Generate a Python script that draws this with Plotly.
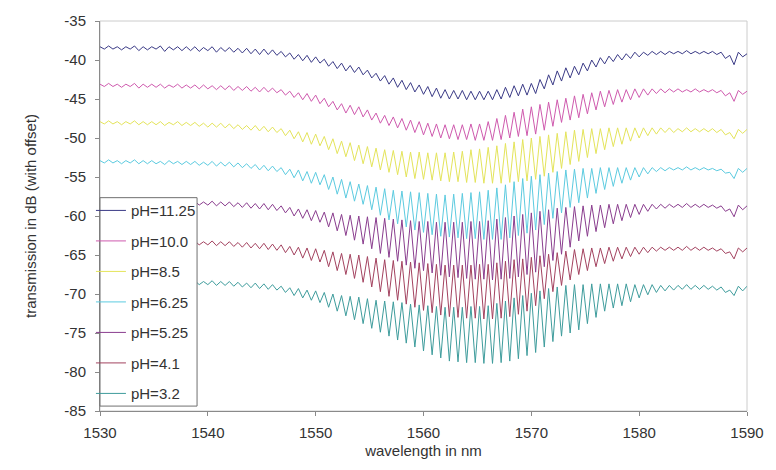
import numpy as np
import plotly.graph_objects as go

# ---------------- data ----------------
ph_labels = ["pH=11.25", "pH=10.0", "pH=8.5", "pH=6.25", "pH=5.25", "pH=4.1", "pH=3.2"]
line_colors = ["#3a3a86", "#cf5aae", "#e4e45a", "#5ccbe0", "#8a3d8e", "#a3425f", "#3e9c9c"]

# fringe sampling grid (nm): peaks at start + step*k, troughs half a step later
fringe_start = 1530.0
fringe_step = 0.8

# fringe maxima (76 values, 1530 ... 1590 nm) and minima (75 values) in dB
peaks_ph11_25 = [
    -38.3, -38.2, -38.3, -38.3, -38.2, -38.3, -38.3, -38.2, -38.3, -38.3,
    -38.3, -38.3, -38.4, -38.3, -38.4, -38.4, -38.5, -38.5, -38.6, -38.6,
    -38.7, -38.9, -39.1, -39.3, -39.4, -39.6, -39.9, -40.2, -40.4, -40.7,
    -40.9, -41.3, -41.7, -42.0, -42.3, -42.6, -42.9, -43.2, -43.4, -43.6,
    -43.8, -43.9, -43.9, -44.0, -44.0, -44.0, -43.8, -43.5, -43.3, -43.1,
    -43.0, -42.5, -41.9, -41.4, -41.0, -40.8, -40.4, -40.0, -39.7, -39.5,
    -39.3, -39.2, -39.0, -39.0, -38.9, -38.9, -38.9, -38.9, -38.8, -38.9,
    -38.9, -38.9, -39.0, -39.4, -39.0, -39.2]
troughs_ph11_25 = [
    -38.6, -38.6, -38.7, -38.6, -38.8, -38.7, -38.6, -38.9, -38.7, -38.8,
    -38.8, -38.9, -38.8, -39.0, -38.9, -39.0, -39.1, -39.2, -39.3, -39.3,
    -39.4, -39.6, -39.9, -40.1, -40.3, -40.4, -40.8, -41.1, -41.4, -41.6,
    -41.9, -42.3, -42.7, -43.1, -43.5, -43.8, -44.1, -44.4, -44.7, -44.9,
    -45.0, -45.0, -45.1, -45.1, -45.1, -45.1, -45.0, -44.8, -44.6, -44.5,
    -44.3, -43.7, -43.2, -42.7, -42.3, -41.9, -41.4, -40.9, -40.5, -40.2,
    -40.0, -39.8, -39.6, -39.4, -39.3, -39.3, -39.2, -39.2, -39.2, -39.2,
    -39.2, -39.3, -39.8, -40.6, -39.6]

peaks_ph10_0 = [
    -43.1, -43.0, -43.1, -43.1, -43.0, -43.1, -43.1, -43.1, -43.2, -43.1,
    -43.2, -43.2, -43.2, -43.3, -43.3, -43.3, -43.4, -43.4, -43.5, -43.5,
    -43.6, -43.8, -44.0, -44.2, -44.3, -44.5, -44.9, -45.3, -45.6, -45.8,
    -46.0, -46.4, -46.8, -47.1, -47.3, -47.5, -47.7, -47.9, -48.1, -48.2,
    -48.3, -48.3, -48.3, -48.2, -48.2, -47.9, -47.5, -47.1, -46.7, -46.3,
    -46.0, -45.7, -45.4, -45.1, -44.9, -44.6, -44.4, -44.2, -44.0, -43.9,
    -43.8, -43.8, -43.7, -43.7, -43.7, -43.7, -43.7, -43.7, -43.8, -43.7,
    -43.8, -43.8, -43.9, -44.2, -43.9, -44.0]
troughs_ph10_0 = [
    -43.4, -43.4, -43.5, -43.4, -43.6, -43.5, -43.5, -43.6, -43.5, -43.6,
    -43.6, -43.7, -43.7, -43.8, -43.8, -43.9, -43.9, -44.0, -44.1, -44.1,
    -44.2, -44.5, -44.8, -45.1, -45.3, -45.6, -46.0, -46.4, -46.8, -47.0,
    -47.3, -47.7, -48.1, -48.4, -48.7, -49.0, -49.3, -49.6, -49.8, -50.0,
    -50.1, -50.2, -50.2, -50.3, -50.3, -50.3, -50.2, -50.0, -49.8, -49.7,
    -49.5, -49.0, -48.5, -48.0, -47.7, -47.4, -46.9, -46.4, -46.0, -45.7,
    -45.4, -45.1, -44.8, -44.5, -44.3, -44.2, -44.1, -44.1, -44.1, -44.1,
    -44.1, -44.2, -44.6, -45.3, -44.4]

peaks_ph8_5 = [
    -47.9, -47.8, -47.9, -47.9, -47.8, -47.9, -47.9, -47.9, -48.0, -47.9,
    -48.0, -48.0, -48.1, -48.1, -48.1, -48.2, -48.3, -48.4, -48.4, -48.5,
    -48.6, -48.8, -49.0, -49.2, -49.3, -49.5, -49.8, -50.1, -50.4, -50.6,
    -50.9, -51.1, -51.3, -51.5, -51.6, -51.7, -51.8, -51.8, -51.9, -51.9,
    -51.9, -51.8, -51.7, -51.5, -51.4, -51.2, -51.0, -50.7, -50.5, -50.2,
    -50.0, -49.8, -49.6, -49.4, -49.2, -49.0, -48.9, -48.8, -48.8, -48.7,
    -48.7, -48.7, -48.7, -48.7, -48.7, -48.7, -48.7, -48.8, -48.7, -48.8,
    -48.8, -48.8, -48.9, -49.3, -48.9, -48.9]
troughs_ph8_5 = [
    -48.2, -48.2, -48.3, -48.2, -48.3, -48.3, -48.3, -48.4, -48.3, -48.4,
    -48.4, -48.5, -48.6, -48.6, -48.7, -48.8, -48.9, -49.0, -49.1, -49.2,
    -49.3, -49.7, -50.1, -50.5, -50.8, -51.0, -51.5, -52.0, -52.4, -52.9,
    -53.3, -53.7, -54.1, -54.4, -54.7, -55.0, -55.2, -55.3, -55.4, -55.5,
    -55.6, -55.6, -55.7, -55.7, -55.8, -55.8, -55.8, -55.7, -55.6, -55.5,
    -55.3, -54.9, -54.4, -53.9, -53.4, -53.0, -52.5, -52.0, -51.5, -51.1,
    -50.8, -50.4, -50.0, -49.7, -49.5, -49.3, -49.3, -49.2, -49.2, -49.2,
    -49.2, -49.3, -49.6, -50.1, -49.4]

peaks_ph6_25 = [
    -52.9, -52.8, -52.9, -52.9, -52.8, -52.9, -52.9, -53.0, -52.9, -53.0,
    -53.0, -53.0, -53.1, -53.0, -53.1, -53.1, -53.2, -53.3, -53.4, -53.5,
    -53.6, -53.8, -54.0, -54.1, -54.3, -54.4, -54.7, -55.0, -55.3, -55.6,
    -55.9, -56.1, -56.3, -56.5, -56.7, -56.8, -56.9, -57.0, -57.1, -57.2,
    -57.3, -57.2, -57.1, -57.0, -56.9, -56.7, -56.4, -56.0, -55.6, -55.2,
    -54.9, -54.7, -54.5, -54.3, -54.1, -54.0, -53.9, -53.9, -53.8, -53.8,
    -53.8, -53.8, -53.8, -53.8, -53.8, -53.8, -53.8, -53.8, -53.7, -53.8,
    -53.8, -53.9, -54.0, -54.4, -53.9, -53.9]
troughs_ph6_25 = [
    -53.2, -53.2, -53.3, -53.2, -53.3, -53.3, -53.3, -53.4, -53.3, -53.4,
    -53.4, -53.5, -53.5, -53.6, -53.6, -53.7, -53.8, -53.9, -54.1, -54.2,
    -54.3, -54.7, -55.1, -55.5, -55.8, -56.0, -56.6, -57.2, -57.7, -58.1,
    -58.5, -59.2, -59.9, -60.5, -61.0, -61.4, -61.8, -62.1, -62.4, -62.6,
    -62.7, -62.8, -62.9, -62.9, -63.0, -63.0, -63.0, -62.8, -62.5, -62.2,
    -61.8, -61.1, -60.3, -59.6, -58.9, -58.3, -57.7, -57.1, -56.6, -56.2,
    -55.8, -55.4, -55.0, -54.6, -54.3, -54.2, -54.1, -54.1, -54.1, -54.1,
    -54.1, -54.2, -54.5, -55.2, -54.4]

peaks_ph5_25 = [
    -58.0, -57.9, -58.0, -58.0, -57.9, -58.0, -58.0, -58.1, -58.0, -58.1,
    -58.1, -58.1, -58.2, -58.1, -58.2, -58.2, -58.3, -58.3, -58.4, -58.4,
    -58.5, -58.7, -58.9, -59.1, -59.2, -59.3, -59.5, -59.6, -59.8, -59.9,
    -60.0, -60.1, -60.2, -60.3, -60.4, -60.5, -60.6, -60.7, -60.7, -60.8,
    -60.8, -60.8, -60.8, -60.7, -60.7, -60.6, -60.4, -60.2, -60.0, -59.8,
    -59.6, -59.4, -59.2, -59.0, -58.9, -58.8, -58.7, -58.6, -58.6, -58.5,
    -58.5, -58.5, -58.5, -58.5, -58.5, -58.5, -58.5, -58.5, -58.4, -58.5,
    -58.5, -58.6, -58.7, -59.1, -58.6, -58.7]
troughs_ph5_25 = [
    -58.3, -58.3, -58.4, -58.3, -58.4, -58.4, -58.4, -58.5, -58.4, -58.5,
    -58.5, -58.6, -58.6, -58.7, -58.7, -58.8, -58.9, -59.0, -59.1, -59.2,
    -59.3, -59.6, -60.0, -60.3, -60.6, -60.8, -61.4, -61.9, -62.5, -63.1,
    -63.6, -64.2, -64.8, -65.3, -65.8, -66.3, -66.7, -67.0, -67.3, -67.6,
    -67.8, -67.9, -68.0, -68.1, -68.1, -68.2, -68.1, -68.0, -67.8, -67.5,
    -67.2, -66.5, -65.7, -64.9, -64.0, -63.2, -62.6, -62.0, -61.5, -61.0,
    -60.6, -60.2, -59.8, -59.4, -59.1, -59.0, -58.9, -58.9, -58.9, -58.9,
    -58.9, -59.0, -59.4, -60.1, -59.2]

peaks_ph4_1 = [
    -63.1, -63.0, -63.1, -63.1, -63.0, -63.1, -63.1, -63.2, -63.1, -63.2,
    -63.2, -63.2, -63.3, -63.2, -63.3, -63.3, -63.4, -63.4, -63.5, -63.5,
    -63.6, -63.7, -63.9, -64.0, -64.1, -64.2, -64.4, -64.6, -64.8, -64.9,
    -65.0, -65.2, -65.4, -65.6, -65.7, -65.8, -65.9, -66.0, -66.1, -66.2,
    -66.3, -66.3, -66.3, -66.3, -66.2, -66.2, -66.0, -65.8, -65.6, -65.5,
    -65.3, -65.1, -64.9, -64.7, -64.5, -64.3, -64.2, -64.1, -64.1, -64.0,
    -64.0, -64.0, -64.0, -64.0, -64.0, -64.0, -64.0, -64.0, -63.9, -64.0,
    -64.0, -64.1, -64.2, -64.6, -64.1, -64.1]
troughs_ph4_1 = [
    -63.4, -63.4, -63.5, -63.4, -63.5, -63.5, -63.5, -63.6, -63.5, -63.6,
    -63.6, -63.7, -63.7, -63.8, -63.8, -63.9, -64.0, -64.1, -64.2, -64.3,
    -64.4, -64.7, -65.0, -65.4, -65.7, -65.9, -66.5, -67.0, -67.5, -68.0,
    -68.5, -69.1, -69.7, -70.3, -70.8, -71.3, -71.7, -72.1, -72.4, -72.7,
    -72.9, -73.0, -73.1, -73.1, -73.2, -73.2, -73.1, -72.9, -72.6, -72.2,
    -71.5, -70.6, -69.7, -68.9, -68.2, -67.5, -67.0, -66.5, -66.1, -65.8,
    -65.5, -65.2, -64.9, -64.7, -64.5, -64.4, -64.4, -64.4, -64.4, -64.4,
    -64.4, -64.5, -64.8, -65.5, -64.6]

peaks_ph3_2 = [
    -68.2, -68.1, -68.2, -68.2, -68.1, -68.2, -68.2, -68.3, -68.2, -68.3,
    -68.3, -68.3, -68.4, -68.3, -68.4, -68.4, -68.5, -68.6, -68.6, -68.7,
    -68.8, -69.0, -69.2, -69.3, -69.5, -69.6, -69.8, -70.0, -70.2, -70.3,
    -70.4, -70.6, -70.8, -70.9, -71.0, -71.1, -71.3, -71.4, -71.5, -71.6,
    -71.7, -71.7, -71.7, -71.6, -71.6, -71.5, -71.2, -70.9, -70.5, -70.2,
    -69.9, -69.6, -69.3, -69.1, -68.9, -68.8, -68.8, -68.7, -68.7, -68.7,
    -68.7, -68.7, -68.8, -68.8, -68.8, -68.9, -68.9, -68.9, -68.8, -68.9,
    -68.9, -69.0, -69.1, -69.5, -69.0, -69.0]
troughs_ph3_2 = [
    -68.5, -68.5, -68.6, -68.5, -68.6, -68.6, -68.6, -68.7, -68.6, -68.7,
    -68.7, -68.8, -68.8, -68.9, -68.9, -69.0, -69.1, -69.2, -69.3, -69.4,
    -69.5, -69.8, -70.2, -70.5, -70.8, -71.1, -71.7, -72.2, -72.8, -73.3,
    -73.8, -74.4, -74.9, -75.4, -75.9, -76.3, -76.8, -77.3, -77.8, -78.2,
    -78.6, -78.7, -78.8, -78.8, -78.9, -78.9, -78.8, -78.6, -78.3, -77.9,
    -77.5, -76.8, -76.1, -75.4, -75.0, -74.6, -73.8, -73.0, -72.2, -71.8,
    -71.5, -71.0, -70.5, -70.1, -69.8, -69.6, -69.5, -69.4, -69.4, -69.4,
    -69.4, -69.5, -69.8, -70.2, -69.6]

series_peaks = [peaks_ph11_25, peaks_ph10_0, peaks_ph8_5, peaks_ph6_25,
                peaks_ph5_25, peaks_ph4_1, peaks_ph3_2]
series_troughs = [troughs_ph11_25, troughs_ph10_0, troughs_ph8_5, troughs_ph6_25,
                  troughs_ph5_25, troughs_ph4_1, troughs_ph3_2]

x_ticks = [1530, 1540, 1550, 1560, 1570, 1580, 1590]
x_tick_text = ["1530", "1540", "1550", "1560", "1570", "1580", "1590"]
y_ticks = [-85, -80, -75, -70, -65, -60, -55, -50, -45, -40, -35]
y_tick_text = ["-85", "-80", "-75", "-70", "-65", "-60", "-55", "-50", "-45", "-40", "-35"]

# ---------------- figure ----------------
FONT = "Liberation Sans, Arial, sans-serif"
TXT = "#333333"
AXC = "#8a8a8a"
FS = 15

fig = go.Figure()
for name, col, pk, tr in zip(ph_labels, line_colors, series_peaks, series_troughs):
    pk_wl = fringe_start + fringe_step * np.arange(len(pk))
    tr_wl = pk_wl[:len(tr)] + fringe_step / 2
    xs, ys = [], []
    for i in range(len(pk)):
        xs.append(pk_wl[i]); ys.append(pk[i])
        if i < len(tr):
            xs.append(tr_wl[i]); ys.append(tr[i])
    fig.add_trace(go.Scatter(x=xs, y=ys, mode="lines", name=name,
                             legendgroup=name,
                             line=dict(color=col, width=1)))

fig.update_layout(
    width=776, height=470,
    margin=dict(l=100, r=26, t=13, b=59),
    paper_bgcolor="white", plot_bgcolor="white",
    font=dict(family=FONT, size=FS, color=TXT),
    showlegend=True,
    legend=dict(x=-0.014, y=0.556, xanchor="left", yanchor="top",
                bgcolor="rgba(0,0,0,0)", borderwidth=0,
                font=dict(family=FONT, size=FS, color=TXT),
                tracegroupgap=8, itemwidth=30),
    shapes=[
        dict(type="rect", xref="paper", yref="paper", x0=0, x1=1, y0=0, y1=1,
             line=dict(color="#cccccc", width=1), layer="below"),
        dict(type="rect", xref="paper", yref="paper", x0=0, x1=0.150,
             y0=0.0126, y1=0.547, fillcolor="white",
             line=dict(color="#707070", width=1), layer="above"),
    ],
)
fig.update_xaxes(range=[1530, 1590], tickvals=x_ticks, ticktext=x_tick_text,
                 ticks="outside", ticklen=4, ticklabelstandoff=4,
                 tickcolor=AXC, showline=True, linecolor=AXC, linewidth=1,
                 showgrid=False, zeroline=False,
                 title=dict(text="wavelength in nm", standoff=5,
                            font=dict(family=FONT, size=FS, color=TXT)))
fig.update_yaxes(range=[-85, -35], tickvals=y_ticks, ticktext=y_tick_text,
                 ticks="outside", ticklen=4, ticklabelstandoff=6,
                 tickcolor=AXC, showline=True, linecolor=AXC, linewidth=1,
                 showgrid=False, zeroline=False,
                 title=dict(text="transmission in dB (with offset)", standoff=24,
                            font=dict(family=FONT, size=FS, color=TXT)))

fig.write_html("out.html")
